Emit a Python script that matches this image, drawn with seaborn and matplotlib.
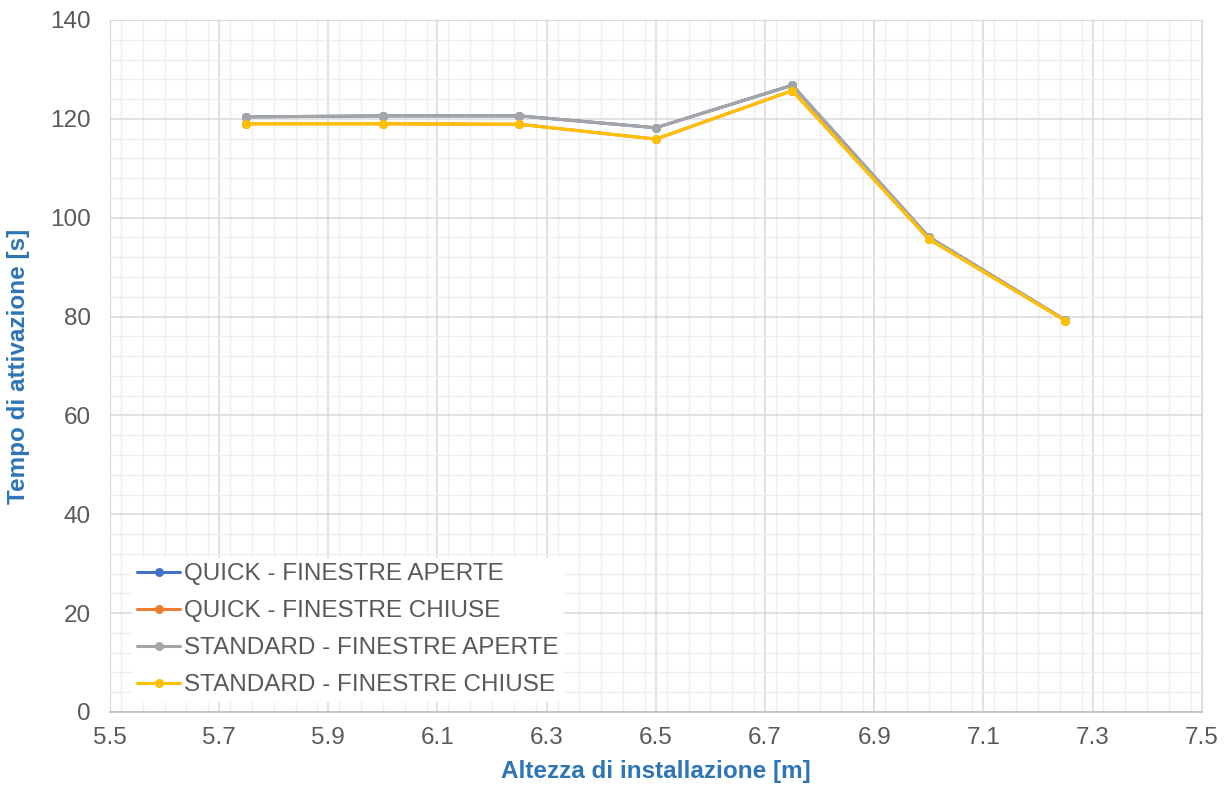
import matplotlib
matplotlib.use("Agg")
import matplotlib.pyplot as plt
from matplotlib.ticker import MultipleLocator
import seaborn as sns
import pandas as pd

heights = [5.75, 6.0, 6.25, 6.5, 6.75, 7.0, 7.25]
quick_aperte = [120.4, 120.6, 120.6, 118.2, 126.8, 96.1, 79.3]
quick_chiuse = [119.0, 119.0, 118.9, 115.9, 125.7, 95.7, 79.2]
standard_aperte = [120.4, 120.6, 120.6, 118.2, 126.8, 96.1, 79.3]
standard_chiuse = [119.0, 119.0, 118.9, 115.9, 125.7, 95.7, 79.2]

series_names = ["QUICK - FINESTRE APERTE", "QUICK - FINESTRE CHIUSE",
                "STANDARD - FINESTRE APERTE", "STANDARD - FINESTRE CHIUSE"]
series_values = [quick_aperte, quick_chiuse, standard_aperte, standard_chiuse]
colors = ["#4472C4", "#ED7D31", "#A5A5A5", "#FFC000"]

x_ticks = [5.5, 5.7, 5.9, 6.1, 6.3, 6.5, 6.7, 6.9, 7.1, 7.3, 7.5]
y_ticks = [0, 20, 40, 60, 80, 100, 120, 140]

rows = []
for name, vals in zip(series_names, series_values):
    for h, v in zip(heights, vals):
        rows.append({"Altezza": h, "Tempo": v, "Serie": name})
df = pd.DataFrame(rows)

sns.set_style("white")
plt.rcParams["font.family"] = ["Liberation Sans", "DejaVu Sans"]

fig = plt.figure(figsize=(12.3, 7.87), dpi=100)
ax = fig.add_axes([0.0894, 0.0953, 0.8876, 0.8793])

sns.lineplot(data=df, x="Altezza", y="Tempo", hue="Serie", hue_order=series_names,
             palette=colors, marker="o", markersize=6.5, markeredgewidth=0,
             linewidth=2.2, ax=ax, legend=True)

ax.set_xlim(5.5, 7.5)
ax.set_ylim(0, 140)
ax.set_xticks(x_ticks)
ax.set_xticklabels([f"{t:.1f}" for t in x_ticks])
ax.set_yticks(y_ticks)
ax.xaxis.set_minor_locator(MultipleLocator(0.04))
ax.yaxis.set_minor_locator(MultipleLocator(4))
ax.grid(which="major", color="#D9D9D9", linewidth=1.1)
ax.grid(which="minor", color="#EEEEEE", linewidth=1.0)
ax.set_axisbelow(True)
ax.tick_params(which="both", length=0, labelsize=17.5, colors="#595959")
ax.tick_params(axis="y", pad=14)
ax.tick_params(axis="x", pad=11)
for s in ["top", "right", "left"]:
    ax.spines[s].set_color("#D9D9D9")
ax.spines["bottom"].set_color("#BFBFBF")
ax.spines["bottom"].set_linewidth(1.2)

ax.set_xlabel("Altezza di installazione [m]", fontsize=17.5, fontweight="bold",
              color="#2E75B6", labelpad=8)
ax.set_ylabel("Tempo di attivazione [s]", fontsize=17.5, fontweight="bold",
              color="#2E75B6", labelpad=14)

leg = ax.legend(loc="lower left", bbox_to_anchor=(0.0095, -0.002), fontsize=17.5,
                frameon=True, framealpha=1, edgecolor="white", facecolor="white",
                handlelength=1.75, handletextpad=0.15, labelspacing=0.62,
                borderpad=0.2, fancybox=False)
for t in leg.get_texts():
    t.set_color("#595959")

fig.savefig("out.png", dpi=100)
